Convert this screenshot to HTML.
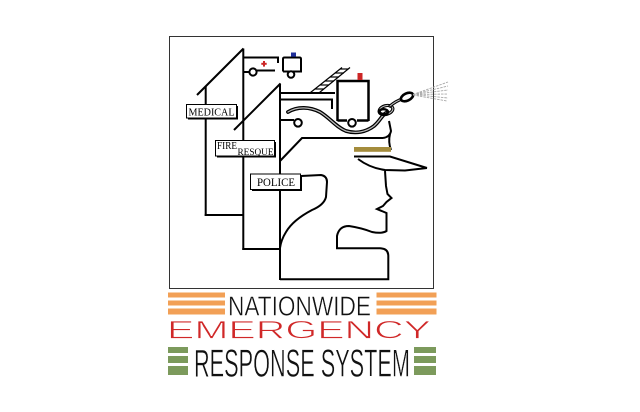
<!DOCTYPE html>
<html>
<head>
<meta charset="utf-8">
<style>
html,body{margin:0;padding:0;background:#fff;}
svg{display:block;}
</style>
</head>
<body>
<svg width="640" height="412" viewBox="0 0 640 412" xmlns="http://www.w3.org/2000/svg">
  <rect x="0" y="0" width="640" height="412" fill="#fff"/>
  <!-- frame -->
  <rect x="169.5" y="36.5" width="264" height="252" fill="none" stroke="#333" stroke-width="1"/>

  <g fill="none" stroke="#000" stroke-width="2" stroke-linejoin="miter">
    <!-- medical building -->
    <line x1="197" y1="95" x2="243.5" y2="48.5"/>
    <line x1="205.7" y1="86" x2="205.7" y2="216"/>
    <line x1="204.7" y1="215" x2="244" y2="215"/>
    <line x1="243.3" y1="48.5" x2="243.3" y2="250"/>
    <line x1="242.3" y1="249" x2="281" y2="249"/>
    <!-- ambulance roofline -->
    <polyline points="243,57.5 278,57.5 278,63"/>
    <line x1="243" y1="72" x2="249.5" y2="72"/>
    <line x1="257" y1="70.5" x2="275" y2="70.5"/>
    <!-- fire building -->
    <line x1="234" y1="130" x2="280.5" y2="83.5"/>
    <line x1="280" y1="83.5" x2="280" y2="280"/>
    <!-- truck -->
    <line x1="280" y1="93" x2="335" y2="93"/>
    <polyline points="280,99.5 332,99.5 332,109"/>
    <line x1="280" y1="120" x2="294" y2="120"/>
    <!-- police roof -->
    <polyline points="280,161 302,138 383,138"/>
    <path d="M383,138 Q390,137 391,131 L389,121"/>
    <path d="M390,134 Q388,142 391,150"/>
    <!-- head -->
    <path d="M280,279.3 L388.3,279.3 L388.3,256 Q388.3,248.3 380,248.3 L337,248.3 L337,236 Q339,226 349,226 Q362,228 372,232 Q382,234 386.5,231 L386.5,213 L377,209 L383,206 L386.5,202 L391.5,198 L387.5,194 L386,186 L385,171"/>
    <!-- neck / back -->
    <path d="M301,176 L321,175 Q327,176 327,182 L326,197 Q324,205 312,210 Q293,220 286,232 Q281,240 280,248"/>
    <!-- visor -->
    <polyline points="354,156.5 390,156.5 427,168"/>
    <path d="M358,159 Q370,168 385,170 L405,170.5 L427,168"/>
  </g>

  <!-- cab -->
  <path d="M337.5,121 L337.5,81 L368.5,81 L368.5,121" fill="none" stroke="#000" stroke-width="2.5"/>
  <line x1="337.5" y1="120.5" x2="347" y2="120.5" stroke="#000" stroke-width="2.5"/>
  <line x1="357" y1="120.5" x2="368.5" y2="120.5" stroke="#000" stroke-width="2.5"/>
  <rect x="357.5" y="73" width="5" height="7" fill="#cc2626"/>

  <!-- ladder -->
  <g stroke="#000" stroke-width="1.2" fill="none">
    <line x1="310.5" y1="92.5" x2="342" y2="67.5"/>
    <line x1="319.5" y1="92.5" x2="350" y2="67.5"/>
    <line x1="315" y1="89" x2="324" y2="89"/>
    <line x1="320" y1="85" x2="329" y2="85"/>
    <line x1="325" y1="81" x2="334" y2="81"/>
    <line x1="330" y1="77" x2="339" y2="77"/>
    <line x1="335" y1="73" x2="344" y2="73"/>
    <line x1="340" y1="69" x2="348.5" y2="69"/>
  </g>

  <!-- wheels -->
  <g fill="#fff" stroke="#000" stroke-width="2">
    <circle cx="253" cy="72" r="3.6"/>
    <circle cx="298" cy="122.8" r="3.8"/>
    <circle cx="352" cy="122.8" r="3.8"/>
  </g>

  <!-- ambulance -->
  <path d="M283,71.5 L283,59 Q283,57.5 284.5,57.5 L299.5,57.5 Q301,57.5 301,59 L301,71.5 L283,71.5" fill="#fff" stroke="#000" stroke-width="2"/>
  <circle cx="291" cy="74.5" r="3.3" fill="#fff" stroke="#000" stroke-width="2"/>
  <rect x="291" y="52.5" width="5" height="4.2" fill="#1f2f9a"/>
  <!-- red cross -->
  <rect x="261.3" y="62.8" width="5.4" height="2" fill="#cc2626"/>
  <rect x="263" y="61" width="2" height="5.6" fill="#cc2626"/>

  <!-- gold band -->
  <rect x="354" y="147" width="37" height="4.8" fill="#a48c3c"/>

  <!-- hose -->
  <g fill="none" stroke-linecap="round">
    <path d="M288,112 C298,106 310,107 320,112 C330,118 336,127 346,131 C356,134 366,132 374,126 C380,121 382,115 386,113" stroke="#000" stroke-width="3.8"/>
    <path d="M288,112 C298,106 310,107 320,112 C330,118 336,127 346,131 C356,134 366,132 374,126 C380,121 382,115 386,113" stroke="#bbb" stroke-width="1.3"/>
    <ellipse cx="386" cy="110" rx="7" ry="4.3" transform="rotate(-15 386 110)" stroke="#000" stroke-width="3.2"/>
    <ellipse cx="386" cy="110" rx="7" ry="4.3" transform="rotate(-15 386 110)" stroke="#bbb" stroke-width="1.1"/>
    <ellipse cx="383.5" cy="112" rx="4.5" ry="2.8" stroke="#000" stroke-width="2.4"/>
    <path d="M390,106 Q396,101 402,99" stroke="#000" stroke-width="3.2"/>
    <path d="M390,106 Q396,101 402,99" stroke="#bbb" stroke-width="1.1"/>
  </g>
  <!-- nozzle -->
  <ellipse cx="407" cy="97" rx="6.5" ry="3.6" transform="rotate(-25 407 97)" fill="#fff" stroke="#000" stroke-width="2.6"/>
  <!-- spray -->
  <g stroke="#a8a8a8" stroke-width="0.9" stroke-dasharray="2.5 1">
    <line x1="413" y1="94.5" x2="448" y2="82"/>
    <line x1="413" y1="94.5" x2="448" y2="86"/>
    <line x1="413" y1="94.5" x2="448" y2="90"/>
    <line x1="413" y1="94.5" x2="448" y2="94"/>
    <line x1="413" y1="94.5" x2="448" y2="98"/>
    <line x1="413" y1="95" x2="447" y2="101"/>
  </g>

  <!-- labels -->
  <g font-family="'Liberation Serif', serif" fill="#000">
    <rect x="188" y="106" width="50" height="13.5" fill="#000"/>
    <rect x="186.5" y="104.5" width="50" height="13.5" fill="#fff" stroke="#000" stroke-width="1"/>
    <text x="188.5" y="115.5" font-size="11" textLength="46" lengthAdjust="spacingAndGlyphs">MEDICAL</text>

    <rect x="217" y="142" width="59" height="15.5" fill="#000"/>
    <rect x="215.5" y="140.5" width="59" height="15.5" fill="#fff" stroke="#000" stroke-width="1"/>
    <text x="217" y="149" font-size="10.5" textLength="20" lengthAdjust="spacingAndGlyphs">FIRE</text>
    <text x="237.5" y="155" font-size="9" textLength="36" lengthAdjust="spacingAndGlyphs">RESQUE</text>

    <rect x="252" y="175.5" width="50" height="15.5" fill="#000"/>
    <rect x="250.5" y="174" width="50" height="15.5" fill="#fff" stroke="#000" stroke-width="1"/>
    <text x="257" y="185.8" font-size="12" textLength="38" lengthAdjust="spacingAndGlyphs">POLICE</text>
  </g>

  <!-- orange stripes -->
  <g fill="#f2a056">
    <rect x="168" y="292.5" width="57" height="5"/>
    <rect x="168" y="300.5" width="57" height="5"/>
    <rect x="168" y="308.5" width="57" height="6"/>
    <rect x="376.5" y="292.5" width="60" height="5"/>
    <rect x="376.5" y="300.5" width="60" height="5"/>
    <rect x="376.5" y="308.5" width="60" height="6"/>
  </g>
  <!-- green stripes -->
  <g fill="#7c9a5c">
    <rect x="168" y="347" width="20" height="6"/>
    <rect x="168" y="356" width="20" height="7"/>
    <rect x="168" y="366" width="20" height="9"/>
    <rect x="414" y="347" width="22" height="6"/>
    <rect x="414" y="356" width="22" height="7"/>
    <rect x="414" y="366" width="22" height="9"/>
  </g>

  <!-- title text -->
  <g font-family="'Liberation Sans', sans-serif">
    <text x="228" y="315.5" font-size="28" fill="#111" stroke="#fff" stroke-width="0.5" textLength="143" lengthAdjust="spacingAndGlyphs">NATIONWIDE</text>
    <text x="167" y="338.5" font-size="25" fill="#d02828" stroke="#fff" stroke-width="0.7" textLength="264" lengthAdjust="spacingAndGlyphs">EMERGENCY</text>
    <text x="194" y="376.5" font-size="39" fill="#111" stroke="#fff" stroke-width="0.6" textLength="216" lengthAdjust="spacingAndGlyphs">RESPONSE SYSTEM</text>
  </g>
</svg>
</body>
</html>
